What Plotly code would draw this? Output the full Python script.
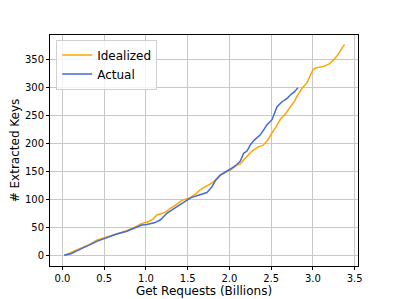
import plotly.graph_objects as go

ideal_x = [0.02, 0.10, 0.17, 0.25, 0.33, 0.41, 0.50, 0.57, 0.65, 0.77, 0.89, 0.95, 1.01, 1.08, 1.13,
           1.20, 1.25, 1.29, 1.35, 1.43, 1.53, 1.60, 1.65, 1.72, 1.81, 1.89, 1.95, 2.01, 2.09, 2.13,
           2.17, 2.22, 2.27, 2.35, 2.40, 2.45, 2.51, 2.56, 2.61, 2.67, 2.73, 2.78, 2.81, 2.87, 2.93,
           2.96, 3.00, 3.03, 3.08, 3.13, 3.20, 3.25, 3.30, 3.33, 3.35, 3.38]
ideal_y = [0, 5, 9, 14, 20, 27, 31, 34, 38, 44, 52, 57, 59, 64, 72,
           75, 79, 84, 89, 98, 103, 110, 117, 123, 131, 143, 147, 152, 161, 163,
           170, 178, 186, 194, 196, 204, 217, 230, 243, 252, 265, 275, 284, 298, 308,
           318, 331, 334, 335, 337, 342, 349, 358, 367, 370, 376]

actual_x = [0.02, 0.10, 0.17, 0.25, 0.33, 0.41, 0.50, 0.57, 0.65, 0.77, 0.89, 0.95, 1.01, 1.10, 1.17,
            1.25, 1.32, 1.41, 1.48, 1.53, 1.60, 1.65, 1.73, 1.79, 1.83, 1.89, 1.95, 2.01, 2.05, 2.09,
            2.13, 2.17, 2.21, 2.25, 2.30, 2.37, 2.42, 2.45, 2.51, 2.55, 2.57, 2.63, 2.69, 2.73, 2.78, 2.82]
actual_y = [0, 3, 8, 13, 19, 25, 30, 33, 38, 43, 51, 54, 55, 58, 63,
            75, 82, 90, 96, 102, 106, 108, 112, 122, 133, 143, 148, 154, 158, 162,
            168, 182, 186, 197, 206, 215, 226, 233, 242, 258, 265, 274, 280, 286, 292, 299]

x_ticks = [0.0, 0.5, 1.0, 1.5, 2.0, 2.5, 3.0, 3.5]
y_ticks = [0, 50, 100, 150, 200, 250, 300, 350]

fig = go.Figure()
fig.add_trace(go.Scatter(x=ideal_x, y=ideal_y, mode="lines", name="Idealized",
                         line=dict(color="#FFA500", width=1.5)))
fig.add_trace(go.Scatter(x=actual_x, y=actual_y, mode="lines", name="Actual",
                         line=dict(color="#4169E1", width=1.5)))

axis_common = dict(showline=True, linecolor="black", linewidth=1, mirror=True,
                   showgrid=True, gridcolor="#c8c8c8", gridwidth=1, zeroline=False,
                   ticks="outside", ticklen=3, tickcolor="black", automargin=False,
                   tickfont=dict(size=10, color="black"))

fig.update_xaxes(range=[-0.15, 3.54], tickvals=x_ticks,
                 ticktext=[f"{v:.1f}" for v in x_ticks],
                 title=dict(text="Get Requests (Billions)", font=dict(size=12, color="black"), standoff=2),
                 **axis_common)
fig.update_yaxes(range=[-19, 393], tickvals=y_ticks,
                 ticktext=[str(v) for v in y_ticks],
                 title=dict(text="# Extracted Keys", font=dict(size=12, color="black"), standoff=6),
                 **axis_common)

fig.update_layout(
    width=391, height=291,
    margin=dict(l=42, r=41, t=27, b=33),
    paper_bgcolor="white", plot_bgcolor="white",
    font=dict(family="DejaVu Sans", color="black"),
    legend=dict(x=0.02, y=0.98, xanchor="left", yanchor="top",
                bgcolor="rgba(255,255,255,0.8)", bordercolor="#d0d0d0", borderwidth=1,
                font=dict(size=12), itemwidth=30, tracegroupgap=0),
    showlegend=True,
)

fig.write_html("out.html")
